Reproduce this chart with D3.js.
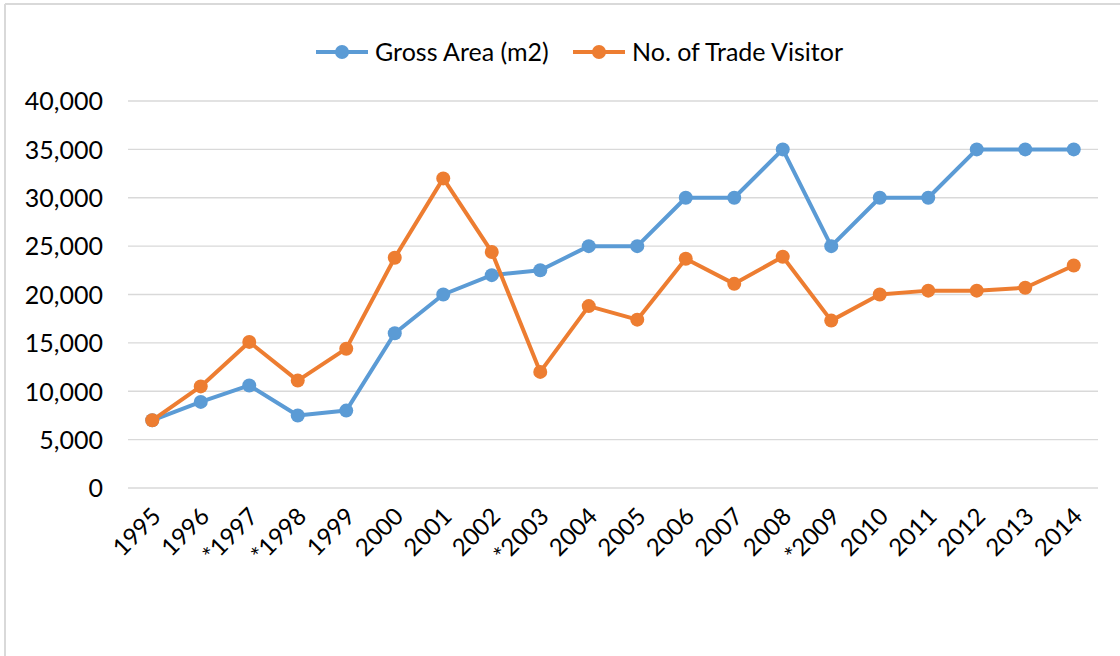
<!DOCTYPE html>
<html>
<head>
<meta charset="utf-8">
<script src="https://cdn.jsdelivr.net/npm/d3@7"></script>
<style>
  body { margin: 0; background: #fff; }
  svg text { font-family: Lato, "Open Sans", sans-serif; fill: #000; }
</style>
</head>
<body>
<div id="chart"></div>
<script>
// data
var years = ['1995', '1996', '*1997', '*1998', '1999', '2000', '2001', '2002', '*2003', '2004',
             '2005', '2006', '2007', '2008', '*2009', '2010', '2011', '2012', '2013', '2014'];
var grossArea = [7000, 8900, 10600, 7500, 8000, 16000, 20000, 22000, 22500, 25000,
                 25000, 30000, 30000, 35000, 25000, 30000, 30000, 35000, 35000, 35000];
var tradeVisitor = [7000, 10500, 15100, 11100, 14400, 23800, 32000, 24400, 12000, 18800,
                    17400, 23700, 21100, 23900, 17300, 20000, 20400, 20400, 20700, 23000];
var yTicks = [0, 5000, 10000, 15000, 20000, 25000, 30000, 35000, 40000];

var series = [
    { name: 'Gross Area (m2)', values: grossArea, color: '#5b9bd5' },
    { name: 'No. of Trade Visitor', values: tradeVisitor, color: '#ed7d31' }
];

var width = 1120, height = 656;
var margin = { top: 101, right: 22, bottom: 168, left: 128 };

var svg = d3.select('#chart').append('svg')
    .attr('width', width)
    .attr('height', height);

// frame (only top and left edges show)
svg.append('line').attr('x1', 5).attr('x2', width).attr('y1', 4).attr('y2', 4)
    .attr('stroke', '#d9d9d9').attr('stroke-width', 2);
svg.append('line').attr('x1', 5).attr('x2', 5).attr('y1', 4).attr('y2', height)
    .attr('stroke', '#d9d9d9').attr('stroke-width', 2);

var x = d3.scaleBand()
    .domain(years)
    .range([margin.left, width - margin.right]);

var y = d3.scaleLinear()
    .domain([0, 40000])
    .range([height - margin.bottom, margin.top]);

// gridlines
svg.append('g')
    .selectAll('line')
    .data(yTicks)
    .join('line')
    .attr('x1', margin.left)
    .attr('x2', width - margin.right)
    .attr('y1', d => y(d))
    .attr('y2', d => y(d))
    .attr('stroke', '#d9d9d9')
    .attr('stroke-width', 1.3);

// y axis labels
var yAxis = svg.append('g')
    .attr('transform', 'translate(' + (margin.left - 25) + ',0)')
    .call(d3.axisLeft(y).tickValues(yTicks).tickFormat(d3.format(',')).tickSize(0));
yAxis.select('.domain').remove();
yAxis.selectAll('text')
    .attr('x', 0)
    .attr('dy', '0.35em')
    .style('font-size', '25px');

// x axis labels, rotated
var xAxis = svg.append('g')
    .attr('transform', 'translate(0,' + (height - margin.bottom) + ')')
    .call(d3.axisBottom(x).tickSize(0));
xAxis.select('.domain').remove();
xAxis.selectAll('text')
    .style('font-size', '24px')
    .style('text-anchor', 'end')
    .attr('dy', 0)
    .attr('y', 0)
    .attr('transform', 'translate(10,30) rotate(-45)');

var line = d3.line()
    .x((d, i) => x(years[i]) + x.bandwidth() / 2)
    .y(d => y(d));

series.forEach(function (s) {
    var g = svg.append('g');
    g.append('path')
        .datum(s.values)
        .attr('d', line)
        .attr('fill', 'none')
        .attr('stroke', s.color)
        .attr('stroke-width', 4)
        .attr('stroke-linejoin', 'round');
    g.selectAll('circle')
        .data(s.values)
        .join('circle')
        .attr('cx', (d, i) => x(years[i]) + x.bandwidth() / 2)
        .attr('cy', d => y(d))
        .attr('r', 7)
        .attr('fill', s.color);
});

// legend
var legend = svg.append('g').attr('transform', 'translate(0,52)');
var legX = [316, 573];
series.forEach(function (s, i) {
    var lg = legend.append('g').attr('transform', 'translate(' + legX[i] + ',0)');
    lg.append('line').attr('x1', 0).attr('x2', 52).attr('y1', 0).attr('y2', 0)
        .attr('stroke', s.color).attr('stroke-width', 4);
    lg.append('circle').attr('cx', 26).attr('cy', 0).attr('r', 7).attr('fill', s.color);
    lg.append('text').attr('x', 59).attr('dy', '0.35em')
        .style('font-size', '25px')
        .text(s.name);
});
</script>
</body>
</html>
